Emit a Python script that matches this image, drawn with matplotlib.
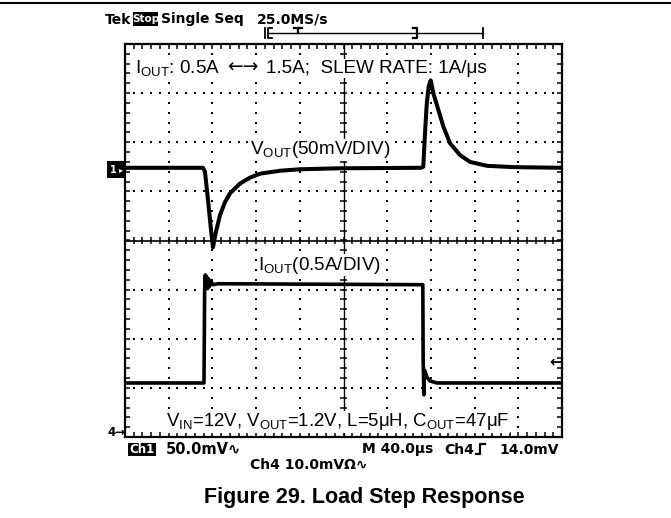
import numpy as np
import matplotlib
matplotlib.use('Agg')
import matplotlib.pyplot as plt
from matplotlib.patches import Rectangle

plt.rcParams['mathtext.fontset'] = 'custom'
plt.rcParams['mathtext.rm'] = 'Liberation Sans'
plt.rcParams['mathtext.it'] = 'Liberation Sans:italic'
plt.rcParams['mathtext.bf'] = 'Liberation Sans:bold'
plt.rcParams['mathtext.fallback'] = 'stixsans'

# ---------------- data (read from the scope shot) ----------------
# Ch1: output voltage deviation (mV), 50 mV/div, time in microseconds (40 us/div)
time_v_us = [0, 71.4, 73.2, 76.0, 78.7, 80.5, 83.3, 87.0, 91.5, 96.1, 105.3, 114.4,
             123.6, 141.9, 160.2, 196.8, 270.9, 273.0, 274.6, 276.2, 278.0, 279.8,
             282.2, 286.8, 291.4, 297.5, 306.6, 315.8, 331.4, 355.1, 400]
vout_mv = [0, 0, -4, -33, -63, -81, -65, -48, -35, -26, -16, -10,
           -6, -3, -1.5, -0.5, 0, 1, 35, 65, 83, 89,
           76, 59, 42, 25, 13, 6, 2, 0.7, 0]

# Ch4: output current (A), 0.5 A/div
time_i_us = [0, 72.3, 72.9, 73.5, 74.1, 74.8, 75.5, 76.3, 77.2, 78.5, 80.5, 85.1,
             180, 272.6, 272.9, 273.6, 274.1, 276.4, 279.2, 285.5, 400]
iout_a = [0.5, 0.5, 1.45, 1.60, 1.47, 1.58, 1.46, 1.56, 1.48, 1.54, 1.50, 1.51,
          1.505, 1.50, 0.75, 0.38, 0.63, 0.56, 0.52, 0.5, 0.5]

V_PER_DIV = 50.0     # mV/div
I_PER_DIV = 0.5      # A/div
CH1_OFFSET = 1.48    # div
CH4_OFFSET = -3.9    # div
TRIG_LEVEL_A = 0.71

# ---------------- figure ----------------
W, H = 671, 518
fig = plt.figure(figsize=(W / 100, H / 100), dpi=100)
renderer = fig.canvas.get_renderer()


def fx(x):
    return x / W


def fy(y):
    return 1 - y / H


x0, x1, y0, y1 = 125, 562, 44, 437
ax = fig.add_axes([fx(x0), fy(y1), (x1 - x0) / W, (y1 - y0) / H])
ax.set_xlim(0, 400)
ax.set_ylim(-4, 4)
for s in ax.spines.values():
    s.set_linewidth(1.6)
ax.set_xticks(np.arange(0, 400.1, 8))
ax.set_yticks(np.arange(-4, 4.01, 0.2))
ax.tick_params(direction='in', length=3.5, width=1.1, top=True, right=True,
               labelbottom=False, labelleft=False)

# dotted graticule
ydots = np.arange(-3.8, 3.81, 0.2)
for k in range(1, 10):
    if k == 5:
        continue
    ax.plot(np.full_like(ydots, 40 * k), ydots, 's', ms=1.6, color='k', mew=0)
xdots = np.arange(8, 400, 8)
for j in range(-3, 4):
    if j == 0:
        continue
    ax.plot(xdots, np.full_like(xdots, j, dtype=float), 's', ms=1.6, color='k', mew=0)

# centre crosshair with ticks
ax.axhline(0, color='k', lw=1.2)
ax.vlines(np.arange(0, 400.1, 8), -0.075, 0.075, color='k', lw=1.1)
ax.axvline(200, color='k', lw=1.0)
ax.hlines(np.arange(-4, 4.01, 0.2), 200 - 3.3, 200 + 3.3, color='k', lw=1.1)

# traces
vy = CH1_OFFSET + np.array(vout_mv) / V_PER_DIV
iy = CH4_OFFSET + np.array(iout_a) / I_PER_DIV
ax.plot(time_v_us, vy, color='k', lw=2.9, solid_joinstyle='round', solid_capstyle='butt',
        zorder=5)
ax.plot(time_i_us, iy, color='k', lw=2.6, solid_joinstyle='round', solid_capstyle='butt',
        zorder=5)

# trigger level marker (right)
ax.text(400, CH4_OFFSET + TRIG_LEVEL_A / I_PER_DIV, '\u2190', ha='right', va='center',
        fontsize=11, fontweight='bold', family=['DejaVu Sans'], zorder=6)

sans = ['Liberation Sans', 'DejaVu Sans']
narrow = ['Liberation Sans Narrow', 'DejaVu Sans']
box = dict(facecolor='white', edgecolor='none', pad=0.5)


def chain(x, y, parts, **kw):
    """Place several text pieces one after another, starting at pixel x."""
    for s, gap, extra in parts:
        opts = dict(kw)
        opts.update(extra)
        t = fig.text(fx(x), fy(y), s, ha='left', va='baseline', **opts)
        bb = t.get_window_extent(renderer)
        x = x + bb.width + gap


# texts inside the screen
chain(135, 73, [('I$_{\\mathrm{OUT}}$: 0.5A', 7, {}),
                ('\u2190\u2192', 7, dict(family=['DejaVu Sans'], fontsize=13.5)),
                ('1.5A;  SLEW RATE: 1A/\u03bcs', 0, {})],
      fontsize=13.6, family=sans, zorder=10, bbox=box)
fig.text(fx(250), fy(150), 'V$_{\\mathrm{OUT}}$(50mV/DIV)', ha='left', va='center',
         fontsize=13.6, family=sans, bbox=box, zorder=10)
fig.text(fx(258), fy(265), 'I$_{\\mathrm{OUT}}$(0.5A/DIV)', ha='left', va='center',
         fontsize=13.6, family=sans, bbox=box, zorder=10)
fig.text(fx(166), fy(422),
         'V$_{\\mathrm{IN}}$=12V, V$_{\\mathrm{OUT}}$=1.2V, L=5\u03bcH, C$_{\\mathrm{OUT}}$=47\u03bcF',
         ha='left', va='center', fontsize=13.4, family=sans, bbox=box, zorder=10)

# Ch1 marker box
fig.patches.append(Rectangle((fx(107), fy(178)), 19 / W, 17 / H, transform=fig.transFigure,
                             facecolor='k', edgecolor='none'))
fig.text(fx(113), fy(169.5), '1', color='white', ha='center', va='center', fontsize=7,
         fontweight='bold', family=narrow)
fig.text(fx(121), fy(169.5), '\u25b8', color='white', ha='center', va='center', fontsize=6,
         family=['DejaVu Sans'])
# Ch4 marker
fig.text(fx(107), fy(432), '4\u2192', ha='left', va='center', fontsize=8.5,
         fontweight='bold', family=narrow)

# header
fig.lines.append(plt.Line2D([0, 1], [fy(2.5), fy(2.5)], transform=fig.transFigure,
                            color='k', lw=1.5))
fig.text(fx(105), fy(19.5), 'Tek', ha='left', va='center', fontsize=10,
         fontweight='bold', family=narrow)
fig.patches.append(Rectangle((fx(133), fy(26)), 25 / W, 14 / H, transform=fig.transFigure,
                             facecolor='k', edgecolor='none'))
fig.text(fx(145.5), fy(19.5), 'Stop', color='white', ha='center', va='center', fontsize=7.5,
         fontweight='bold', family=narrow)
fig.text(fx(161), fy(19.5), 'Single Seq', ha='left', va='center', fontsize=10,
         fontweight='bold', family=narrow)
fig.text(fx(257), fy(19.5), '25.0MS/s', ha='left', va='center', fontsize=10,
         fontweight='bold', family=narrow)


# trigger position bar and small symbols
def seg(xs, ys, lw=1.3):
    fig.lines.append(plt.Line2D([fx(v) for v in xs], [fy(v) for v in ys],
                                transform=fig.transFigure, color='k', lw=lw))


seg([268, 483], [33, 33], 1.0)
seg([265, 265], [28, 38])
seg([272, 268, 268, 272], [28, 28, 38, 38])
seg([483, 483], [28, 38])
seg([298, 298], [28, 33], 1.6)
seg([294, 302], [28, 28], 1.6)
seg([413, 417, 417, 413], [28, 28, 38, 38], 1.6)

# bottom status line
fig.patches.append(Rectangle((fx(128), fy(456)), 28 / W, 13 / H, transform=fig.transFigure,
                             facecolor='k', edgecolor='none'))
fig.text(fx(142), fy(449.5), 'Ch1', color='white', ha='center', va='center', fontsize=8.5,
         fontweight='bold', family=narrow)
fig.text(fx(166), fy(449.5), '50.0mV\u223f', ha='left', va='center', fontsize=10.5,
         fontweight='bold', family=narrow)
fig.text(fx(362), fy(449.5), 'M 40.0\u00b5s', ha='left', va='center',
         fontsize=10, fontweight='bold', family=narrow)
fig.text(fx(444), fy(449.5), 'Ch4', ha='left', va='center',
         fontsize=10, fontweight='bold', family=narrow)
# rising-edge trigger slope symbol
seg([476, 480, 480, 485], [454, 454, 444, 444], 1.6)
fig.text(fx(559), fy(449.5), '14.0mV', ha='right', va='center',
         fontsize=10, fontweight='bold', family=narrow)
fig.text(fx(250), fy(465), 'Ch4 10.0mV\u03a9\u223f', ha='left', va='center', fontsize=10,
         fontweight='bold', family=narrow)

# caption
fig.text(fx(364), fy(498), 'Figure 29. Load Step Response', ha='center', va='center',
         fontsize=15.5, fontweight='bold', family=sans)

fig.savefig('out.png', dpi=100)
